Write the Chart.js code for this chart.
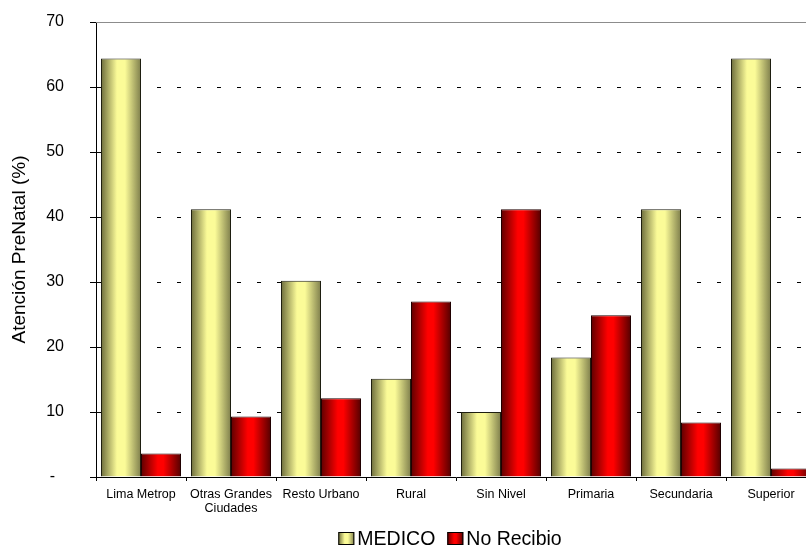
<!DOCTYPE html>
<html lang="es">
<head>
    <meta charset="UTF-8">
    <title>Atención PreNatal</title>
    <script src="https://cdn.jsdelivr.net/npm/chart.js"></script>
    <style>
        html, body { margin: 0; padding: 0; background: #fff; overflow: hidden; }
        #wrap { position: absolute; left: 0; top: 0; width: 816px; height: 546px; }
    </style>
</head>
<body>
    <div id="wrap"><canvas id="prenatalChart" width="816" height="546"></canvas></div>
    <script>
        // Categories and values (%)
        const categories = [
            'Lima Metrop', ['Otras Grandes', 'Ciudades'], 'Resto Urbano', 'Rural',
            'Sin Nivel', 'Primaria', 'Secundaria', 'Superior'
        ];
        const medico = [64.4, 41.2, 30.2, 15.1, 10.0, 18.4, 41.2, 64.4];
        const noRecibio = [3.6, 9.3, 12.1, 27.0, 41.2, 24.9, 8.4, 1.3];
        const yTicks = [0, 10, 20, 30, 40, 50, 60, 70];

        // Colour stops for the shaded (cylinder-like) bars
        const yellowStops = [[0, '#6c6c3c'], [0.4, '#fbfb98'], [0.6, '#fbfb98'], [1, '#7e7e4c']];
        const redStops = [[0, '#5e0000'], [0.42, '#ff0000'], [0.56, '#ff0000'], [1, '#540000']];
        const seriesStops = [yellowStops, redStops];

        const FONT = '"Liberation Sans", Arial, Helvetica, sans-serif';

        function hGradient(ctx, x0, x1, stops) {
            const g = ctx.createLinearGradient(x0, 0, x1, 0);
            stops.forEach(s => g.addColorStop(s[0], s[1]));
            return g;
        }

        // Shade each bar with its own horizontal gradient and draw the plot's top border
        const shadePlugin = {
            id: 'shadeBars',
            beforeDatasetsDraw(chart) {
                const {ctx, chartArea} = chart;
                ctx.save();
                ctx.strokeStyle = '#8c8c8c';
                ctx.lineWidth = 1;
                ctx.beginPath();
                ctx.moveTo(chartArea.left, chartArea.top + 0.5);
                ctx.lineTo(chartArea.right, chartArea.top + 0.5);
                ctx.stroke();
                ctx.restore();
                chart.data.datasets.forEach((ds, i) => {
                    chart.getDatasetMeta(i).data.forEach(bar => {
                        const left = bar.x - bar.width / 2;
                        bar.options.backgroundColor = hGradient(ctx, left, left + bar.width, seriesStops[i]);
                    });
                });
            }
        };

        // Legend drawn under the axis labels: shaded box + label
        const legendPlugin = {
            id: 'boxLegend',
            afterDraw(chart) {
                const {ctx, chartArea} = chart;
                const boxW = 16, boxH = 13, textGap = 3, itemGap = 12;
                ctx.save();
                ctx.font = '19.5px ' + FONT;
                const items = chart.data.datasets.map((ds, i) => ({
                    label: ds.label,
                    stops: seriesStops[i],
                    w: boxW + textGap + ctx.measureText(ds.label).width
                }));
                const total = items.reduce((s, it) => s + it.w, 0) + itemGap * (items.length - 1);
                const center = (chartArea.left + chartArea.right) / 2 - 6;
                let x = center - total / 2;
                const boxTop = chart.height - 14;
                const baseline = chart.height - 1;
                items.forEach(it => {
                    ctx.fillStyle = hGradient(ctx, x, x + boxW, it.stops);
                    ctx.fillRect(x, boxTop, boxW, boxH);
                    ctx.strokeStyle = '#000';
                    ctx.lineWidth = 1;
                    ctx.strokeRect(x + 0.5, boxTop + 0.5, boxW - 1, boxH - 1);
                    ctx.fillStyle = '#000';
                    ctx.textBaseline = 'alphabetic';
                    ctx.textAlign = 'left';
                    ctx.fillText(it.label, x + boxW + textGap, baseline);
                    x += it.w + itemGap;
                });
                ctx.restore();
            }
        };

        const ctx = document.getElementById('prenatalChart').getContext('2d');
        const chart = new Chart(ctx, {
            type: 'bar',
            data: {
                labels: categories,
                datasets: [{
                    label: 'MEDICO',
                    data: medico,
                    backgroundColor: () => '#fbfb98',
                    borderColor: '#1e1e10',
                    borderWidth: 1,
                    categoryPercentage: 0.889,
                    barPercentage: 1.0
                }, {
                    label: 'No Recibio',
                    data: noRecibio,
                    backgroundColor: () => '#ff0000',
                    borderColor: '#200000',
                    borderWidth: 1,
                    categoryPercentage: 0.889,
                    barPercentage: 1.0
                }]
            },
            options: {
                responsive: false,
                animation: false,
                devicePixelRatio: 1,
                layout: { padding: { top: 22, right: 0, bottom: 0, left: 0 } },
                plugins: {
                    legend: { display: false },
                    tooltip: { enabled: false }
                },
                scales: {
                    x: {
                        afterFit(scale) { scale.height = 69; },
                        grid: {
                            offset: true,
                            drawOnChartArea: false,
                            drawTicks: true,
                            tickLength: 4,
                            tickColor: '#000'
                        },
                        border: { display: true, color: '#000', width: 1 },
                        ticks: {
                            color: '#000',
                            padding: 6,
                            maxRotation: 0,
                            autoSkip: false,
                            font: { family: FONT, size: 12.5, lineHeight: 1.15 }
                        }
                    },
                    y: {
                        min: 0,
                        max: 70,
                        afterFit(scale) {
                            scale.width = 96;
                            // the wide label padding should not push the plot area down
                            scale.paddingTop = 0;
                            scale.paddingBottom = 0;
                        },
                        afterBuildTicks(scale) { scale.ticks = yTicks.map(v => ({ value: v })); },
                        grid: {
                            color: c => (c.tick && c.tick.value === 0 ? 'rgba(0,0,0,0)' :
                                c.tick && c.tick.value === 70 ? '#555' : '#000'),
                            lineWidth: 1,
                            tickLength: 6,
                            tickColor: '#000'
                        },
                        border: { display: true, color: '#000', width: 1, dash: [4, 16] },
                        ticks: {
                            color: '#000',
                            padding: 26,
                            font: { family: FONT, size: 16 },
                            callback: v => (v === 0 ? '-  ' : String(v))
                        },
                        title: {
                            display: true,
                            text: 'Atención PreNatal (%)',
                            color: '#000',
                            padding: { top: 8, bottom: 0 },
                            font: { family: FONT, size: 19 }
                        }
                    }
                }
            },
            plugins: [shadePlugin, legendPlugin]
        });
    </script>
</body>
</html>
